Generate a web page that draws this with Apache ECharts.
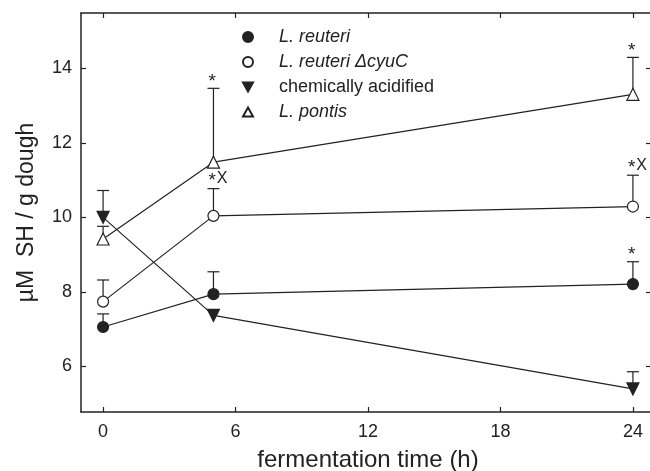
<!DOCTYPE html>
<html>
<head>
<meta charset="utf-8">
<script src="https://cdn.jsdelivr.net/npm/echarts@6/dist/echarts.min.js"></script>
<style>
  html, body { margin: 0; padding: 0; background: #fff; }
  #chart { width: 650px; height: 471px; }
</style>
</head>
<body>
<div id="chart"></div>
<script>
// fermentation time (h)
const times = [0, 5, 24];
const xTicks = [0, 6, 12, 18, 24];
const yTicks = [6, 8, 10, 12, 14];

// µM SH / g dough, mean and top of error bar
const reuteri = [7.06, 7.94, 8.21];
const reuteriTop = [7.41, 8.54, 8.81];
const cyuC = [7.74, 10.04, 10.29];
const cyuCTop = [8.32, 10.77, 11.13];
const acidified = [10.0, 7.37, 5.40];
const acidifiedTop = [10.72, null, 5.86];
const pontis = [9.42, 11.48, 13.30];
const pontisTop = [9.76, 13.46, 14.29];

// significance marks above the error bars
const reuteriMarks = ['', '', '*'];
const cyuCMarks = ['', '*X', '*X'];
const acidifiedMarks = ['', '', ''];
const pontisMarks = ['', '*', '*'];

const ink = '#222';
const font = 'Liberation Sans, Arial, sans-serif';

const pairs = vals => times.map((t, i) => [t, vals[i]]);
const errRows = (vals, tops, marks) =>
  times.map((t, i) => [t, vals[i], tops[i], marks[i]]).filter(r => r[2] != null);

const errData = {
  e1: errRows(reuteri, reuteriTop, reuteriMarks),
  e2: errRows(cyuC, cyuCTop, cyuCMarks),
  e3: errRows(acidified, acidifiedTop, acidifiedMarks),
  e4: errRows(pontis, pontisTop, pontisMarks),
};

const renderErr = (params, api) => {
  const x = api.value(0);
  const p0 = api.coord([x, api.value(1)]);
  const p1 = api.coord([x, api.value(2)]);
  const mark = errData[params.seriesName][params.dataIndex][3];
  const children = [
    { type: 'line', shape: { x1: p0[0], y1: p0[1], x2: p1[0], y2: p1[1] }, style: { stroke: ink, lineWidth: 1.2 } },
    { type: 'line', shape: { x1: p1[0] - 6, y1: p1[1], x2: p1[0] + 6, y2: p1[1] }, style: { stroke: ink, lineWidth: 1.2 } },
  ];
  if (mark) {
    children.push({
      type: 'text',
      x: p1[0] - 5,
      y: p1[1] + 3,
      style: {
        text: mark.length > 1 ? '{s|*}{x|X}' : '{s|*}',
        textAlign: 'left',
        textVerticalAlign: 'bottom',
        rich: {
          s: { fontSize: 19, fontFamily: font, fill: ink },
          x: { fontSize: 16, fontFamily: font, fill: ink, padding: [0, 0, 5, 1] },
        },
      },
    });
  }
  return { type: 'group', children };
};

const lineSeries = (name, vals, symbol, filled, rotate) => ({
  name,
  type: 'line',
  data: pairs(vals),
  symbol,
  symbolSize: symbol === 'circle' ? 11 : 12,
  symbolRotate: rotate || 0,
  showSymbol: true,
  z: 3,
  lineStyle: { color: ink, width: 1.2 },
  itemStyle: { color: filled ? ink : '#fff', borderColor: ink, borderWidth: 1.2 },
  emphasis: { disabled: true },
});

const errSeries = key => ({
  name: key,
  type: 'custom',
  renderItem: renderErr,
  data: errData[key],
  z: 2,
  silent: true,
});

const boxAxis = {
  axisLine: { show: true, onZero: false, lineStyle: { color: ink, width: 1.5 } },
  axisTick: { show: true, inside: true, length: 5, lineStyle: { color: ink, width: 1.2 } },
  axisLabel: { show: false },
  splitLine: { show: false },
};

const chart = echarts.init(document.getElementById('chart'));
chart.setOption({
  animation: false,
  backgroundColor: '#fff',
  grid: { left: 81, right: -5, top: 13, bottom: 59, containLabel: false, outerBoundsMode: 'none' },
  legend: {
    left: 242,
    top: 28,
    padding: 0,
    orient: 'vertical',
    itemWidth: 10,
    itemHeight: 10,
    itemGap: 7,
    selectedMode: false,
    data: [
      { name: 'reuteri', icon: 'circle' },
      { name: 'cyuC', icon: 'circle' },
      { name: 'acidified', icon: 'path://M0,0L10,0L5,9Z' },
      { name: 'pontis', icon: 'path://M5,0L10,9L0,9Z' },
    ],
    formatter: name => ({
      reuteri: '{i|L. reuteri}',
      cyuC: '{i|L. reuteri Δ}{i|cyuC}',
      acidified: '{n|chemically acidified}',
      pontis: '{i|L. pontis}',
    }[name]),
    textStyle: {
      padding: [0, 0, 0, 21],
      lineHeight: 18,
      rich: {
        i: { fontSize: 18, fontStyle: 'italic', fontFamily: font, color: ink },
        n: { fontSize: 18, fontFamily: font, color: ink },
      },
    },
  },
  xAxis: [
    {
      type: 'value',
      min: -1,
      max: 25,
      name: 'fermentation time (h)',
      nameLocation: 'middle',
      nameGap: 36,
      nameTextStyle: { fontSize: 24, fontFamily: font, color: ink },
      ...boxAxis,
      axisTick: { ...boxAxis.axisTick, customValues: xTicks },
      axisLabel: { customValues: xTicks, fontSize: 18, fontFamily: font, color: ink, margin: 11 },
    },
    {
      type: 'value',
      position: 'top',
      min: -1,
      max: 25,
      ...boxAxis,
      axisTick: { ...boxAxis.axisTick, customValues: xTicks },
    },
  ],
  yAxis: [
    {
      type: 'value',
      min: 4.78,
      max: 15.48,
      name: 'µM  SH / g dough',
      nameLocation: 'middle',
      nameGap: 43,
      nameTextStyle: { fontSize: 23, fontFamily: font, color: ink },
      ...boxAxis,
      axisTick: { ...boxAxis.axisTick, customValues: yTicks },
      axisLabel: { customValues: yTicks, fontSize: 18, fontFamily: font, color: ink, margin: 9 },
    },
    {
      type: 'value',
      position: 'right',
      min: 4.78,
      max: 15.48,
      ...boxAxis,
      axisTick: { ...boxAxis.axisTick, length: 9, customValues: yTicks },
    },
  ],
  series: [
    errSeries('e1'),
    errSeries('e2'),
    errSeries('e3'),
    errSeries('e4'),
    lineSeries('reuteri', reuteri, 'circle', true),
    lineSeries('cyuC', cyuC, 'circle', false),
    lineSeries('acidified', acidified, 'triangle', true, 180),
    lineSeries('pontis', pontis, 'triangle', false),
  ],
});
</script>
</body>
</html>
